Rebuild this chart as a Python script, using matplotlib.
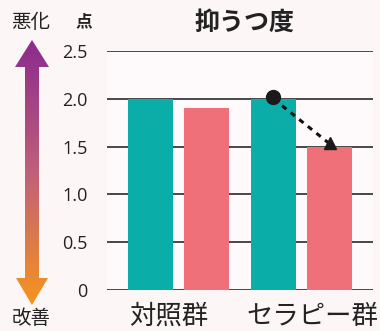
import matplotlib.pyplot as plt
import numpy as np
from matplotlib.patches import Polygon
from matplotlib.colors import LinearSegmentedColormap

plt.rcParams['font.family'] = ['Noto Sans CJK JP', 'DejaVu Sans']

groups = ['対照群', 'セラピー群']
before = [2.0, 2.0]   # teal bars
after = [1.9, 1.5]    # pink bars
yticks = [0, 0.5, 1.0, 1.5, 2.0, 2.5]
ytick_labels = ['0', '0.5', '1.0', '1.5', '2.0', '2.5']

TEAL = '#0aada8'
PINK = '#f0707a'
BG = '#fdf6f7'

fig = plt.figure(figsize=(3.8, 3.31), dpi=100, facecolor=BG)
ax = fig.add_axes([107 / 380, 41 / 331, 266 / 380, 239 / 331])
ax.set_facecolor('#fefafb')

x = np.arange(len(groups))
w = 0.366
off = 0.228
for y in yticks:
    ax.axhline(y, color='#2a2a2a', lw=1.2, zorder=1)
ax.bar(x - off, before, w, color=TEAL, zorder=2)
ax.bar(x + off, after, w, color=PINK, zorder=2)

# change marker for the therapy group
ax.plot([x[1] - off, x[1] + off], [before[1], after[1] + 0.03], color='#111111',
        lw=2.2, ls=(0, (1.8, 1.8)), zorder=3)
ax.plot(x[1] - off, before[1] + 0.02, 'o', color='#1a1a1a', ms=10, zorder=4)
ax.plot(x[1] + off, after[1] + 0.04, '^', color='#1a1a1a', ms=9, zorder=4)

ax.set_xlim(-0.581, 1.581)
ax.set_ylim(0, 2.5)
ax.set_yticks(yticks)
ax.set_yticklabels(ytick_labels, fontsize=13, color='#222222', family='Open Sans')
ax.tick_params(axis='y', length=0, pad=14)
ax.set_xticks(x + np.array([-0.08, 0.085]))
ax.set_xticklabels(groups, fontsize=19, color='#222222')
ax.tick_params(axis='x', length=0, pad=9)
for s in ax.spines.values():
    s.set_visible(False)

# overlay in pixel coords for text and gradient arrow
ov = fig.add_axes([0, 0, 1, 1], facecolor='none')
ov.set_xlim(0, 380)
ov.set_ylim(331, 0)
ov.axis('off')

ov.text(245, 23, '抑うつ度', fontsize=18, fontweight='bold', color='#222222',
        ha='center', va='center')
ov.text(84, 21, '点', fontsize=12, fontweight='bold', color='#222222',
        ha='center', va='center')
ov.text(31, 22, '悪化', fontsize=14, color='#222222', ha='center', va='center')
ov.text(31, 319, '改善', fontsize=14, color='#222222', ha='center', va='center')

arrow = Polygon([(32, 40), (49, 67), (39, 67), (39, 278), (48, 278), (32, 305),
                 (16, 278), (25, 278), (25, 67), (15, 67)],
                closed=True, facecolor='none', edgecolor='none')
ov.add_patch(arrow)
cmap = LinearSegmentedColormap.from_list('arr', ['#8b2a8e', '#c0607a', '#f7941d'])
grad = np.linspace(0, 1, 256).reshape(-1, 1)
im = ov.imshow(grad, cmap=cmap, extent=(14, 50, 306, 39), aspect='auto', zorder=2)
im.set_clip_path(arrow)
ov.set_xlim(0, 380)
ov.set_ylim(331, 0)

fig.savefig('out.png', dpi=100, facecolor=BG)
